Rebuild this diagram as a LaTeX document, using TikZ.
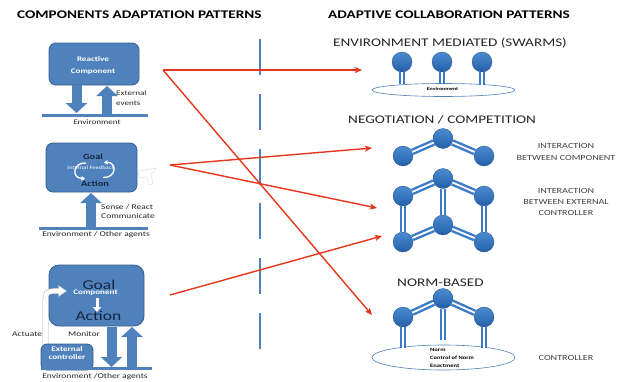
\documentclass[tikz,border=0pt]{standalone}
\usepackage{fontspec}
\setmainfont[FakeStretch=1.3]{Carlito}
\usetikzlibrary{arrows.meta,shapes.geometric}

\definecolor{blueA}{HTML}{4F81BD}
\definecolor{blueD}{HTML}{385D8A}
\definecolor{ballT}{HTML}{4A8AD0}
\definecolor{ballB}{HTML}{2460A8}
\definecolor{linkB}{HTML}{3C7BC6}
\definecolor{redA}{HTML}{E8361C}
\definecolor{txtD}{HTML}{262626}
\definecolor{txtG}{HTML}{404040}
\definecolor{navyT}{HTML}{17253D}

\newcommand\fsz[2]{\fontsize{#1}{#2}\selectfont}

\tikzset{
  comp/.style={draw=blueD, line width=0.8pt, fill=blueA, rounded corners=7pt,
    inner sep=0pt},
  lbl/.style={inner sep=0pt, anchor=base, text=txtD},
  wlbl/.style={inner sep=0pt, anchor=base, text=white, font=\bfseries\fsz{7}{8}},
  blockarrow/.style={blueA, line width=10pt, -{Triangle[length=10pt,width=21pt]}},
  bar/.style={blueA, line width=3pt},
  hollow/.style={draw=black!25, line width=0.4pt, fill=white},
  agent/.style={circle, minimum size=20pt, inner sep=0pt, top color=ballT,
    bottom color=ballB, draw=ballB!80!black, line width=0.3pt},
  link/.style={draw=linkB, line width=2.4pt, double=white, double distance=1.8pt},
  envell/.style={ellipse, draw=blueA, line width=0.6pt, fill=white, inner sep=0pt},
  redlink/.style={redA, line width=1.4pt, -{Stealth[length=7pt,width=6pt,inset=1.5pt]}},
  divider/.style={blueA, line width=2pt, dash pattern=on 36pt off 18.8pt},
  heading/.style={inner sep=0pt, anchor=base west, text=black, font=\bfseries\fsz{11.7}{13}},
  subhead/.style={inner sep=0pt, anchor=base west, text=txtD, font=\fsz{11.7}{13}},
  sidelbl/.style={inner sep=0pt, anchor=base, text=txtG, font=\fsz{7.8}{9}},
}

\begin{document}
\begin{tikzpicture}[x=1pt,y=-1pt]
\useasboundingbox[fill=white] (0,0) rectangle (622,381);

% ---------- headings ----------
\node[heading] (hl) at (17,18.3) {COMPONENTS ADAPTATION PATTERNS};
\node[heading] (hr) at (328,18.3) {ADAPTIVE COLLABORATION PATTERNS};

% ---------- divider ----------
\draw[divider] (260,39) coordinate (dv1) -- (260,350) coordinate (dv2);

% ---------- reactive component ----------
\node[comp, minimum width=90pt, minimum height=42pt] (r1) at (94,64) {};
\node[wlbl] (r1a) at (93,61.7) {Reactive};
\node[wlbl] (r1b) at (93,73.3) {Component};
\draw[blockarrow] (76.5,85) -- (76.5,113);
\draw[blockarrow] (107,115) -- (107,86);
\draw[bar] (42,115.5) coordinate (b1w) -- (148,115.5) coordinate (b1e);
\node[lbl, anchor=base west, font=\fsz{7}{8}] (ext1) at (116,95) {External};
\node[lbl, anchor=base west, font=\fsz{7}{8}] (ext2) at (116,105) {events};
\node[lbl, font=\fsz{7}{8}] (env1) at (97,124.3) {Environment};

% ---------- goal / action with internal feedback ----------
\node[comp, minimum width=91pt, minimum height=49pt] (r2) at (91.5,167.5) {};
\node[lbl, text=navyT, font=\bfseries\fsz{8}{9}] (g2) at (93,159) {Goal};
\node[lbl, text=navyT, font=\bfseries\fsz{8}{9}] (a2) at (95,186) {Action};
\draw[white, line width=1.3pt, -{Triangle[length=3.5pt,width=4.5pt]}]
  (86,163) .. controls (73,162) and (71,178) .. (85,178.5);
\draw[white, line width=1.3pt, -{Triangle[length=3.5pt,width=4.5pt]}]
  (103,177.5) .. controls (117,178) and (117,162) .. (104,162.5);
\node[lbl, text=white, font=\fsz{5}{6}] (fb2) at (91,169) {Internal Feedback};
\draw[black!12, line width=0.5pt] (138,171) -- (156,168) -- (151,175) -- (153,184)
  -- (149,185) -- (146,177) -- (139,178) -- cycle;
\draw[blockarrow] (91,227) -- (91,193);
\draw[bar] (39,228.5) coordinate (b2w) -- (148,228.5) coordinate (b2e);
\node[lbl, anchor=base west, font=\fsz{7.3}{8}] (sr1) at (101,209.3) {Sense / React};
\node[lbl, anchor=base west, font=\fsz{7.3}{8}] (sr2) at (101,218.7) {Communicate};
\node[lbl, font=\fsz{7.3}{8}] (env2) at (96,236.7) {Environment / Other agents};

% ---------- component with external controller ----------
\node[comp, rounded corners=10pt, minimum width=95pt, minimum height=61pt] (r3) at (96.5,295.5) {};
\node[lbl, text=navyT, font=\fsz{13.5}{15}] (g3) at (99,289.3) {Goal};
\node[wlbl] (c3) at (95.5,294) {Component};
\draw[white, line width=3pt, -{Triangle[length=5pt,width=8pt]}] (97,298) -- (97,312);
\node[lbl, text=navyT, font=\fsz{13.5}{15}] (a3) at (98.5,320.7) {Action};

% actuate path (hollow band) from controller up into component
\draw[black!30, line width=5.6pt, line cap=butt] (45.5,345) -- (45.5,299)
  .. controls (45.5,293) and (48,291) .. (54,291) -- (59,291);
\draw[white, line width=4.6pt, line cap=butt] (45.5,346) -- (45.5,299)
  .. controls (45.5,293) and (48,291) .. (54,291) -- (59.5,291);
\draw[hollow] (58.5,285.5) -- (66.5,291) -- (58.5,296.5) -- cycle;
\draw[white, line width=4.6pt] (57.5,291) -- (59.2,291);

% monitor path
\draw[black!30, line width=3.4pt] (100.5,326.5) -- (100.5,347.5) -- (93,347.5);
\draw[white, line width=2.4pt] (100.5,326.5) -- (100.5,347.5) -- (93,347.5);

\node[comp, rounded corners=6pt, minimum width=52pt, minimum height=26pt] (ec) at (67,357) {};
\node[wlbl] (ec1) at (67,351) {External};
\node[wlbl] (ec2) at (67,359.5) {controller};

\draw[blockarrow] (111.5,326.5) -- (111.5,367);
\draw[blockarrow] (132,368) -- (132,327);
\draw[bar] (41,368.5) coordinate (b3w) -- (152,368.5) coordinate (b3e);
\node[lbl, anchor=base west, font=\fsz{7.3}{8}] (act) at (12,336) {Actuate};
\node[lbl, anchor=base west, font=\fsz{7.3}{8}] (mon) at (68,336) {Monitor};
\node[lbl, font=\fsz{7.3}{8}] (env3) at (95,378) {Environment /Other agents};

% ---------- environment mediated (swarms) ----------
\node[subhead] (t1) at (333,46) {ENVIRONMENT MEDIATED (SWARMS)};
\node[envell, minimum width=143pt, minimum height=13pt] (e1) at (443.5,90) {};
\node[lbl, text=black, font=\bfseries\fsz{4.5}{5}] (e1t) at (442.5,90.7) {Environment};
\node[agent] (s1) at (402,62) {};
\node[agent] (s2) at (442,62) {};
\node[agent] (s3) at (482,62) {};
\foreach \s/\yb in {s1/84.3, s2/83.2, s3/84.5}
  \draw[link] (\s.south) -- (\s.south |- 0,\yb);

% ---------- negotiation / competition ----------
\node[subhead] (t2) at (348,123.3) {NEGOTIATION / COMPETITION};
\node[agent] (n1) at (403,156) {};
\node[agent] (n2) at (443,138.5) {};
\node[agent] (n3) at (484,156) {};
\draw[link] (n1) -- (n2);
\draw[link] (n2) -- (n3);
\node[sidelbl] (i1a) at (566,148.3) {INTERACTION};
\node[sidelbl] (i1b) at (566,160) {BETWEEN COMPONENT};

% ---------- interaction between external controller ----------
\node[agent] (k1) at (403,196) {};
\node[agent] (k2) at (443,178.5) {};
\node[agent] (k3) at (484,196) {};
\node[agent] (k4) at (403,242) {};
\node[agent] (k5) at (443,225) {};
\node[agent] (k6) at (484,242) {};
\draw[link] (k1) -- (k2);
\draw[link] (k2) -- (k3);
\draw[link] (k4) -- (k5);
\draw[link] (k5) -- (k6);
\draw[link] (k1) -- (k4);
\draw[link] (k2) -- (k5);
\draw[link] (k3) -- (k6);
\node[sidelbl] (i2a) at (566,193.3) {INTERACTION};
\node[sidelbl] (i2b) at (566,204.3) {BETWEEN EXTERNAL};
\node[sidelbl] (i2c) at (566,215.7) {CONTROLLER};

% ---------- norm-based ----------
\node[subhead] (t3) at (397,286.7) {NORM-BASED};
\node[envell, minimum width=143pt, minimum height=25pt] (e2) at (443.5,357.5) {};
\node[agent] (m1) at (403,317) {};
\node[agent] (m2) at (443,298.5) {};
\node[agent] (m3) at (484,317) {};
\draw[link] (m1) -- (m2);
\draw[link] (m2) -- (m3);
\draw[link] (m1.south) -- (m1.south |- 0,347.5);
\draw[link] (m2.south) -- (m2.south |- 0,340);
\draw[link] (m3.south) -- (m3.south |- 0,347.5);
\node[lbl, anchor=base west, text=black, font=\bfseries\fsz{5}{6}] (nm1) at (430,351.7) {Norm};
\node[lbl, anchor=base west, text=black, font=\bfseries\fsz{5}{6}] (nm2) at (430,359.3) {Control of Norm};
\node[lbl, anchor=base west, text=black, font=\bfseries\fsz{5}{6}] (nm3) at (430,367) {Enactment};
\node[sidelbl] (ctl) at (566,360) {CONTROLLER};

% ---------- mapping arrows ----------
\coordinate (o1) at (163,70);
\coordinate (o2) at (170,165);
\coordinate (o3) at (170,295);
\coordinate (p1) at (362,70);
\coordinate (p2) at (372,315);
\coordinate (p3) at (372,148);
\coordinate (p4) at (377,208);
\coordinate (p5) at (382,236);
\draw[redlink] (o1) -- (p1);
\draw[redlink] (o1) -- (p2);
\draw[redlink] (o2) -- (p3);
\draw[redlink] (o2) -- (p4);
\draw[redlink] (o3) -- (p5);
\end{tikzpicture}
\end{document}
